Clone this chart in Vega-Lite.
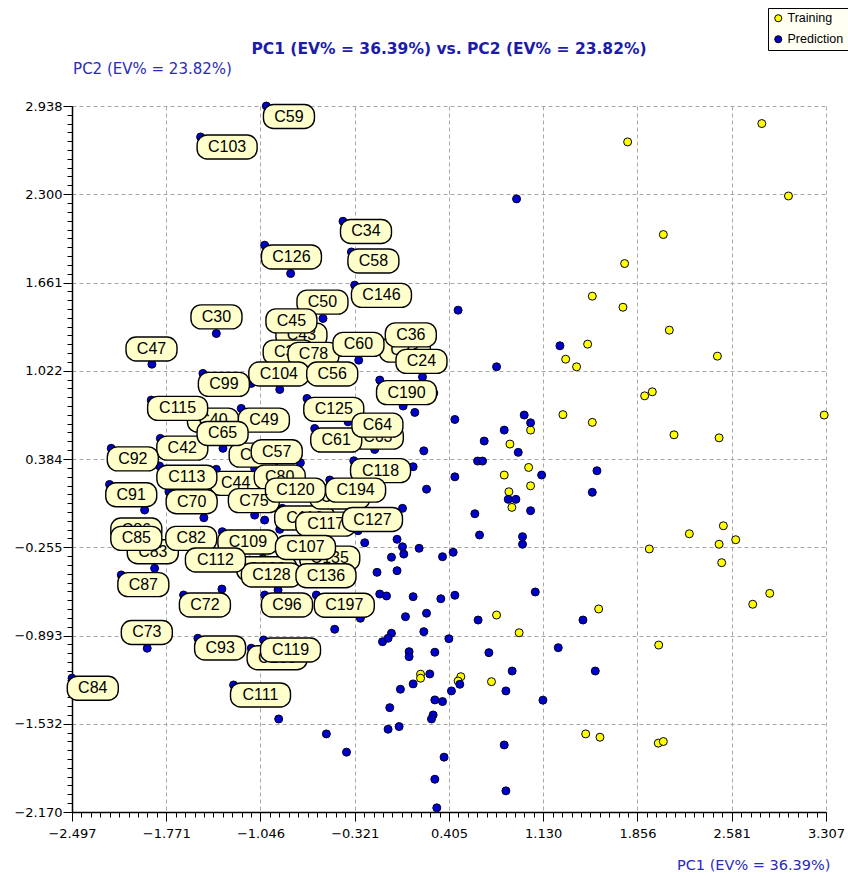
{
"$schema": "https://vega.github.io/schema/vega-lite/v6.json",
"width": 754, "height": 706,
"autosize": {"type": "none"},
"padding": {"left": 72, "top": 106, "right": 22, "bottom": 64},
"background": "white",
"config": {"view": {"stroke": null}},
"title": {"text": "PC1 (EV% = 36.39%) vs. PC2 (EV% = 23.82%)", "font": "DejaVu Sans", "fontSize": 15.5, "fontWeight": "bold", "color": "#1C1CA8", "anchor": "middle", "frame": "group", "offset": 4, "dy": 54},
"datasets": {
"points": [
{"x":2.813,"y":2.811,"set":"Training"},{"x":1.780,"y":2.678,"set":"Training"},{"x":3.018,"y":2.287,"set":"Training"},{"x":2.055,"y":2.008,"set":"Training"},{"x":1.757,"y":1.798,"set":"Training"},{"x":1.508,"y":1.562,"set":"Training"},{"x":1.744,"y":1.482,"set":"Training"},{"x":2.101,"y":1.316,"set":"Training"},{"x":1.472,"y":1.215,"set":"Training"},{"x":1.303,"y":1.106,"set":"Training"},{"x":1.387,"y":1.051,"set":"Training"},{"x":2.471,"y":1.128,"set":"Training"},{"x":1.911,"y":0.841,"set":"Training"},{"x":1.970,"y":0.870,"set":"Training"},{"x":1.282,"y":0.705,"set":"Training"},{"x":3.293,"y":0.702,"set":"Training"},{"x":1.508,"y":0.649,"set":"Training"},{"x":2.137,"y":0.559,"set":"Training"},{"x":2.484,"y":0.537,"set":"Training"},{"x":1.033,"y":0.593,"set":"Training"},{"x":0.874,"y":0.492,"set":"Training"},{"x":1.018,"y":0.323,"set":"Training"},{"x":0.830,"y":0.268,"set":"Training"},{"x":1.033,"y":0.190,"set":"Training"},{"x":0.866,"y":0.147,"set":"Training"},{"x":0.889,"y":0.034,"set":"Training"},{"x":2.517,"y":-0.099,"set":"Training"},{"x":2.255,"y":-0.157,"set":"Training"},{"x":2.612,"y":-0.200,"set":"Training"},{"x":2.484,"y":-0.233,"set":"Training"},{"x":1.947,"y":-0.267,"set":"Training"},{"x":2.504,"y":-0.366,"set":"Training"},{"x":2.874,"y":-0.588,"set":"Training"},{"x":2.743,"y":-0.667,"set":"Training"},{"x":1.557,"y":-0.701,"set":"Training"},{"x":0.771,"y":-0.745,"set":"Training"},{"x":0.945,"y":-0.873,"set":"Training"},{"x":2.019,"y":-0.962,"set":"Training"},{"x":0.496,"y":-1.191,"set":"Training"},{"x":0.475,"y":-1.222,"set":"Training"},{"x":0.732,"y":-1.227,"set":"Training"},{"x":1.457,"y":-1.605,"set":"Training"},{"x":1.567,"y":-1.629,"set":"Training"},{"x":2.016,"y":-1.672,"set":"Training"},{"x":2.055,"y":-1.660,"set":"Training"},{"x":0.186,"y":-1.173,"set":"Training"},{"x":0.186,"y":-1.202,"set":"Training"},
{"x":0.925,"y":2.266,"set":"Prediction"},{"x":0.475,"y":1.461,"set":"Prediction"},{"x":1.259,"y":1.203,"set":"Prediction"},{"x":0.771,"y":1.051,"set":"Prediction"},{"x":0.450,"y":0.670,"set":"Prediction"},{"x":0.984,"y":0.702,"set":"Prediction"},{"x":1.033,"y":0.646,"set":"Prediction"},{"x":0.830,"y":0.593,"set":"Prediction"},{"x":0.676,"y":0.514,"set":"Prediction"},{"x":0.938,"y":0.432,"set":"Prediction"},{"x":0.625,"y":0.369,"set":"Prediction"},{"x":0.663,"y":0.369,"set":"Prediction"},{"x":0.450,"y":0.255,"set":"Prediction"},{"x":1.118,"y":0.268,"set":"Prediction"},{"x":1.544,"y":0.299,"set":"Prediction"},{"x":1.508,"y":0.143,"set":"Prediction"},{"x":0.861,"y":0.092,"set":"Prediction"},{"x":0.920,"y":0.092,"set":"Prediction"},{"x":1.033,"y":0.010,"set":"Prediction"},{"x":0.604,"y":-0.012,"set":"Prediction"},{"x":0.640,"y":-0.166,"set":"Prediction"},{"x":0.971,"y":-0.178,"set":"Prediction"},{"x":0.971,"y":-0.233,"set":"Prediction"},{"x":0.437,"y":-0.291,"set":"Prediction"},{"x":0.355,"y":-0.323,"set":"Prediction"},{"x":0.450,"y":-0.602,"set":"Prediction"},{"x":0.342,"y":-0.627,"set":"Prediction"},{"x":1.069,"y":-0.578,"set":"Prediction"},{"x":0.629,"y":-0.781,"set":"Prediction"},{"x":1.436,"y":-0.781,"set":"Prediction"},{"x":0.404,"y":-0.916,"set":"Prediction"},{"x":0.712,"y":-1.017,"set":"Prediction"},{"x":1.246,"y":-0.981,"set":"Prediction"},{"x":0.891,"y":-1.150,"set":"Prediction"},{"x":1.531,"y":-1.150,"set":"Prediction"},{"x":0.488,"y":-1.246,"set":"Prediction"},{"x":0.424,"y":-1.294,"set":"Prediction"},{"x":0.843,"y":-1.294,"set":"Prediction"},{"x":0.355,"y":-1.371,"set":"Prediction"},{"x":1.128,"y":-1.361,"set":"Prediction"},{"x":0.830,"y":-1.685,"set":"Prediction"},{"x":0.367,"y":-1.773,"set":"Prediction"},{"x":0.843,"y":-2.017,"set":"Prediction"},
{"x":0.201,"y":0.978,"set":"Prediction"},{"x":0.142,"y":0.721,"set":"Prediction"},{"x":0.052,"y":0.767,"set":"Prediction"},{"x":0.288,"y":0.861,"set":"Prediction"},{"x":0.211,"y":0.443,"set":"Prediction"},{"x":-0.167,"y":0.453,"set":"Prediction"},{"x":0.129,"y":0.328,"set":"Prediction"},{"x":0.232,"y":0.166,"set":"Prediction"},{"x":0.047,"y":0.027,"set":"Prediction"},{"x":-0.295,"y":-0.135,"set":"Prediction"},{"x":-0.244,"y":-0.222,"set":"Prediction"},{"x":-0.321,"y":-0.294,"set":"Prediction"},{"x":0.005,"y":-0.197,"set":"Prediction"},{"x":0.047,"y":-0.251,"set":"Prediction"},{"x":0.057,"y":-0.304,"set":"Prediction"},{"x":0.175,"y":-0.262,"set":"Prediction"},{"x":-0.038,"y":-0.327,"set":"Prediction"},{"x":0.005,"y":-0.424,"set":"Prediction"},{"x":-0.149,"y":-0.436,"set":"Prediction"},{"x":-0.128,"y":-0.593,"set":"Prediction"},{"x":-0.076,"y":-0.607,"set":"Prediction"},{"x":0.129,"y":-0.612,"set":"Prediction"},{"x":0.070,"y":-0.757,"set":"Prediction"},{"x":0.232,"y":-0.732,"set":"Prediction"},{"x":-0.475,"y":-0.848,"set":"Prediction"},{"x":-0.277,"y":-0.768,"set":"Prediction"},{"x":-0.107,"y":-0.938,"set":"Prediction"},{"x":-0.038,"y":-0.877,"set":"Prediction"},{"x":-0.064,"y":-0.913,"set":"Prediction"},{"x":0.211,"y":-0.865,"set":"Prediction"},{"x":0.098,"y":-1.010,"set":"Prediction"},{"x":0.098,"y":-1.046,"set":"Prediction"},{"x":0.296,"y":-1.014,"set":"Prediction"},{"x":0.257,"y":-1.171,"set":"Prediction"},{"x":0.129,"y":-1.243,"set":"Prediction"},{"x":0.031,"y":-1.282,"set":"Prediction"},{"x":0.296,"y":-1.359,"set":"Prediction"},{"x":-0.051,"y":-1.415,"set":"Prediction"},{"x":0.283,"y":-1.468,"set":"Prediction"},{"x":0.270,"y":-1.497,"set":"Prediction"},{"x":-0.064,"y":-1.571,"set":"Prediction"},{"x":0.021,"y":-1.552,"set":"Prediction"},{"x":-0.906,"y":-1.497,"set":"Prediction"},{"x":-0.539,"y":-1.605,"set":"Prediction"},{"x":-0.384,"y":-1.737,"set":"Prediction"},{"x":0.296,"y":-1.933,"set":"Prediction"},{"x":0.311,"y":-2.140,"set":"Prediction"},
{"x":-1.001,"y":2.938,"set":"Prediction"},{"x":-1.507,"y":2.714,"set":"Prediction"},{"x":-1.014,"y":1.931,"set":"Prediction"},{"x":-0.814,"y":1.726,"set":"Prediction"},{"x":-0.411,"y":2.104,"set":"Prediction"},{"x":-0.346,"y":1.882,"set":"Prediction"},{"x":-0.321,"y":1.642,"set":"Prediction"},{"x":-1.386,"y":1.292,"set":"Prediction"},{"x":-0.565,"y":1.401,"set":"Prediction"},{"x":-1.882,"y":1.070,"set":"Prediction"},{"x":-0.290,"y":1.099,"set":"Prediction"},{"x":-0.898,"y":0.887,"set":"Prediction"},{"x":-1.117,"y":0.931,"set":"Prediction"},{"x":-0.128,"y":0.955,"set":"Prediction"},{"x":-0.688,"y":0.822,"set":"Prediction"},{"x":-1.194,"y":0.750,"set":"Prediction"},{"x":-0.372,"y":0.653,"set":"Prediction"},{"x":-1.489,"y":1.003,"set":"Prediction"},{"x":-1.887,"y":0.810,"set":"Prediction"},{"x":-1.335,"y":0.461,"set":"Prediction"},{"x":-0.629,"y":0.605,"set":"Prediction"},{"x":-1.817,"y":0.533,"set":"Prediction"},{"x":-2.195,"y":0.461,"set":"Prediction"},{"x":-0.739,"y":0.357,"set":"Prediction"},{"x":-1.823,"y":0.333,"set":"Prediction"},{"x":-1.386,"y":0.309,"set":"Prediction"},{"x":-2.208,"y":0.200,"set":"Prediction"},{"x":-1.938,"y":0.015,"set":"Prediction"},{"x":-1.751,"y":0.147,"set":"Prediction"},{"x":-1.482,"y":-0.041,"set":"Prediction"},{"x":-1.091,"y":-0.022,"set":"Prediction"},{"x":-1.014,"y":-0.058,"set":"Prediction"},{"x":-1.091,"y":0.316,"set":"Prediction"},{"x":-0.513,"y":0.232,"set":"Prediction"},{"x":-0.878,"y":0.027,"set":"Prediction"},{"x":-0.898,"y":-0.125,"set":"Prediction"},{"x":-1.340,"y":-0.142,"set":"Prediction"},{"x":-1.129,"y":-0.347,"set":"Prediction"},{"x":-1.861,"y":-0.407,"set":"Prediction"},{"x":-1.027,"y":-0.335,"set":"Prediction"},{"x":-0.989,"y":-0.347,"set":"Prediction"},{"x":-2.118,"y":-0.455,"set":"Prediction"},{"x":-1.638,"y":-0.600,"set":"Prediction"},{"x":-1.343,"y":-0.557,"set":"Prediction"},{"x":-1.014,"y":-0.600,"set":"Prediction"},{"x":-0.911,"y":-0.564,"set":"Prediction"},{"x":-0.616,"y":-0.600,"set":"Prediction"},{"x":-1.918,"y":-0.985,"set":"Prediction"},{"x":-1.528,"y":-0.913,"set":"Prediction"},{"x":-1.117,"y":-0.985,"set":"Prediction"},{"x":-1.022,"y":-0.925,"set":"Prediction"},{"x":-2.497,"y":-1.202,"set":"Prediction"},{"x":-1.253,"y":-1.251,"set":"Prediction"},{"x":-0.328,"y":0.371,"set":"Prediction"}
],
"L0": [
{"label":"C43","x":-0.731,"y":1.280},{"label":"C40","x":-1.412,"y":0.665},{"label":"C55","x":-1.091,"y":0.412},{"label":"C23","x":0.065,"y":1.172},{"label":"C37","x":-0.829,"y":1.157},{"label":"C63","x":-0.143,"y":0.542},{"label":"C116","x":-0.706,"y":-0.043},{"label":"C195","x":-0.436,"y":0.109},{"label":"C86","x":-2.002,"y":-0.130},{"label":"C129","x":-0.998,"y":-0.410},{"label":"C135","x":-0.513,"y":-0.333},{"label":"C188","x":-0.918,"y":-1.054},{"label":"C44","x":-1.237,"y":0.208}
],
"L1": [
{"label":"C42","x":-1.648,"y":0.463},{"label":"C49","x":-1.020,"y":0.665},{"label":"C78","x":-0.638,"y":1.141},{"label":"C80","x":-0.898,"y":0.253},{"label":"C83","x":-1.875,"y":-0.287},{"label":"C109","x":-1.143,"y":-0.217},{"label":"C117","x":-0.544,"y":-0.087},{"label":"C118","x":-0.122,"y":0.300},{"label":"C125","x":-0.482,"y":0.743},{"label":"C128","x":-0.962,"y":-0.455},{"label":"C50","x":-0.569,"y":1.519},{"label":"C99","x":-1.328,"y":0.924},{"label":"C115","x":-1.684,"y":0.750},{"label":"C61","x":-0.463,"y":0.521}
],
"L2": [
{"label":"C59","x":-0.827,"y":2.862},{"label":"C103","x":-1.303,"y":2.641},{"label":"C126","x":-0.808,"y":1.846},{"label":"C30","x":-1.385,"y":1.412},{"label":"C45","x":-0.808,"y":1.383},{"label":"C34","x":-0.234,"y":2.030},{"label":"C58","x":-0.177,"y":1.817},{"label":"C146","x":-0.115,"y":1.568},{"label":"C36","x":0.111,"y":1.282},{"label":"C24","x":0.193,"y":1.090},{"label":"C60","x":-0.292,"y":1.213},{"label":"C190","x":0.078,"y":0.864},{"label":"C64","x":-0.146,"y":0.629},{"label":"C104","x":-0.905,"y":0.999},{"label":"C56","x":-0.494,"y":0.999},{"label":"C47","x":-1.885,"y":1.180},{"label":"C65","x":-1.338,"y":0.569},{"label":"C92","x":-2.029,"y":0.385},{"label":"C57","x":-0.921,"y":0.436},{"label":"C113","x":-1.613,"y":0.252},{"label":"C75","x":-1.097,"y":0.083},{"label":"C120","x":-0.777,"y":0.159},{"label":"C91","x":-2.041,"y":0.125},{"label":"C194","x":-0.314,"y":0.159},{"label":"C127","x":-0.184,"y":-0.054},{"label":"C85","x":-2.002,"y":-0.190},{"label":"C82","x":-1.579,"y":-0.190},{"label":"C107","x":-0.700,"y":-0.256},{"label":"C112","x":-1.393,"y":-0.347},{"label":"C136","x":-0.542,"y":-0.461},{"label":"C87","x":-1.948,"y":-0.525},{"label":"C72","x":-1.474,"y":-0.672},{"label":"C96","x":-0.842,"y":-0.672},{"label":"C197","x":-0.401,"y":-0.674},{"label":"C73","x":-1.921,"y":-0.871},{"label":"C93","x":-1.357,"y":-0.983},{"label":"C119","x":-0.815,"y":-0.998},{"label":"C84","x":-2.337,"y":-1.275},{"label":"C111","x":-1.046,"y":-1.323}
],
"L3": [
{"label":"C70","x":-1.576,"y":0.075}
]
},
"resolve": {"axis": {"x": "independent", "y": "independent"}},
"layer": [
{"data": {"name": "points"}, "mark": {"type": "circle", "opacity": 0},
 "encoding": {
  "x": {"field": "x", "type": "quantitative", "scale": {"domain": [-2.497, 3.307], "nice": false, "zero": false},
   "axis": {"orient": "bottom", "values": [-2.497,-2.424,-2.352,-2.279,-2.207,-2.134,-2.062,-1.989,-1.917,-1.844,-1.771,-1.699,-1.626,-1.554,-1.481,-1.409,-1.336,-1.264,-1.191,-1.119,-1.046,-0.973,-0.901,-0.828,-0.756,-0.683,-0.611,-0.538,-0.466,-0.393,-0.321,-0.248,-0.175,-0.103,-0.030,0.042,0.115,0.187,0.260,0.332,0.405,0.478,0.550,0.623,0.695,0.768,0.840,0.913,0.985,1.058,1.130,1.203,1.276,1.348,1.421,1.493,1.566,1.638,1.711,1.783,1.856,1.929,2.001,2.074,2.146,2.219,2.291,2.364,2.436,2.509,2.581,2.654,2.727,2.799,2.872,2.944,3.017,3.089,3.162,3.234,3.307], "labels": false, "grid": false, "domain": false, "ticks": true, "tickSize": 5, "tickColor": "#000000", "tickWidth": 1, "title": null}},
  "y": {"field": "y", "type": "quantitative", "scale": {"domain": [-2.170, 2.938], "nice": false, "zero": false},
   "axis": {"orient": "left", "values": [-2.170,-2.106,-2.042,-1.978,-1.915,-1.851,-1.787,-1.723,-1.659,-1.595,-1.532,-1.468,-1.404,-1.340,-1.276,-1.212,-1.148,-1.085,-1.021,-0.957,-0.893,-0.829,-0.765,-0.701,-0.638,-0.574,-0.510,-0.446,-0.382,-0.318,-0.255,-0.191,-0.127,-0.063,0.001,0.065,0.129,0.192,0.256,0.320,0.384,0.448,0.512,0.576,0.639,0.703,0.767,0.831,0.895,0.959,1.022,1.086,1.150,1.214,1.278,1.342,1.406,1.469,1.533,1.597,1.661,1.725,1.789,1.853,1.916,1.980,2.044,2.108,2.172,2.236,2.300,2.364,2.428,2.492,2.555,2.619,2.683,2.747,2.811,2.875,2.938], "labels": false, "grid": false, "domain": false, "ticks": true, "tickSize": 5, "tickColor": "#000000", "tickWidth": 1, "title": null}}
 }},
{"data": {"name": "points"}, "mark": {"type": "circle", "size": 64, "stroke": "#000022", "strokeWidth": 1, "opacity": 1},
 "encoding": {
  "x": {"field": "x", "type": "quantitative", "scale": {"domain": [-2.497, 3.307], "nice": false, "zero": false},
   "axis": {"orient": "bottom", "values": [-2.497,-1.771,-1.046,-0.321,0.405,1.130,1.856,2.581,3.307], "format": ".3f", "labelFlush": false, "labelOverlap": false, "labelBound": false, "grid": true, "gridDash": [4,3], "gridColor": "#A8A8A8", "gridWidth": 1, "domainColor": "#000000", "domainWidth": 1.5, "tickColor": "#000000", "tickSize": 9, "tickWidth": 1, "labelFont": "DejaVu Sans", "labelFontSize": 13, "labelColor": "#000000", "labelPadding": 6,
    "title": "PC1 (EV% = 36.39%)", "titleFont": "DejaVu Sans", "titleFontSize": 14.5, "titleFontWeight": "normal", "titleColor": "#2B2BB8", "titleX": 758, "titleY": 53, "titleAlign": "right", "titleBaseline": "middle", "titleAnchor": "end"}},
  "y": {"field": "y", "type": "quantitative", "scale": {"domain": [-2.170, 2.938], "nice": false, "zero": false},
   "axis": {"orient": "left", "values": [-2.170,-1.532,-0.893,-0.255,0.384,1.022,1.661,2.300,2.938], "format": ".3f", "labelFlush": false, "labelOverlap": false, "labelBound": false, "grid": true, "gridDash": [4,3], "gridColor": "#A8A8A8", "gridWidth": 1, "domainColor": "#000000", "domainWidth": 1.5, "tickColor": "#000000", "tickSize": 9, "tickWidth": 1, "labelFont": "DejaVu Sans", "labelFontSize": 13, "labelColor": "#000000", "labelPadding": 1,
    "title": "PC2 (EV% = 23.82%)", "titleFont": "DejaVu Sans", "titleFontSize": 15, "titleFontWeight": "normal", "titleColor": "#2B2BB8", "titleAngle": 0, "titleX": 80, "titleY": -38, "titleAlign": "center", "titleBaseline": "middle"}},
  "fill": {"field": "set", "type": "nominal", "scale": {"domain": ["Training", "Prediction"], "range": ["#FFFF00", "#0000CD"]},
   "legend": {"orient": "none", "legendX": 696, "legendY": -98, "title": null, "direction": "vertical", "fillColor": "#FFFFF4", "strokeColor": "#000000", "padding": 4, "rowPadding": 8, "labelFont": "Liberation Sans", "labelFontSize": 12.5, "labelColor": "#000000", "symbolType": "circle", "symbolSize": 50, "symbolStrokeColor": "#000000", "symbolStrokeWidth": 1, "labelOffset": 3}}
 }},
{"data": {"name": "L0"}, "mark": {"type": "point", "filled": true, "fill": "#FFFFCC", "stroke": "#000000", "strokeWidth": 1.4, "size": 400, "opacity": 1},
 "encoding": {"x": {"field": "x", "type": "quantitative", "scale": {"domain": [-2.497, 3.307], "nice": false, "zero": false}, "axis": null}, "y": {"field": "y", "type": "quantitative", "scale": {"domain": [-2.170, 2.938], "nice": false, "zero": false}, "axis": null},
  "shape": {"condition": {"test": "length(datum.label) > 3", "value": "M -2 -1.2 L 2 -1.2 C 2.552 -1.2 3 -0.752 3 -0.2 L 3 0.2 C 3 0.752 2.552 1.2 2 1.2 L -2 1.2 C -2.552 1.2 -3 0.752 -3 0.2 L -3 -0.2 C -3 -0.752 -2.552 -1.2 -2 -1.2 Z"}, "value": "M -1.55 -1.2 L 1.55 -1.2 C 2.102 -1.2 2.55 -0.752 2.55 -0.2 L 2.55 0.2 C 2.55 0.752 2.102 1.2 1.55 1.2 L -1.55 1.2 C -2.102 1.2 -2.55 0.752 -2.55 0.2 L -2.55 -0.2 C -2.55 -0.752 -2.102 -1.2 -1.55 -1.2 Z"}}},
{"data": {"name": "L0"}, "mark": {"type": "text", "font": "Liberation Sans", "fontSize": 16, "fill": "#000000", "align": "center", "baseline": "middle"},
 "encoding": {"x": {"field": "x", "type": "quantitative", "scale": {"domain": [-2.497, 3.307], "nice": false, "zero": false}, "axis": null}, "y": {"field": "y", "type": "quantitative", "scale": {"domain": [-2.170, 2.938], "nice": false, "zero": false}, "axis": null}, "text": {"field": "label"}}},
{"data": {"name": "L1"}, "mark": {"type": "point", "filled": true, "fill": "#FFFFCC", "stroke": "#000000", "strokeWidth": 1.4, "size": 400, "opacity": 1},
 "encoding": {"x": {"field": "x", "type": "quantitative", "scale": {"domain": [-2.497, 3.307], "nice": false, "zero": false}, "axis": null}, "y": {"field": "y", "type": "quantitative", "scale": {"domain": [-2.170, 2.938], "nice": false, "zero": false}, "axis": null},
  "shape": {"condition": {"test": "length(datum.label) > 3", "value": "M -2 -1.2 L 2 -1.2 C 2.552 -1.2 3 -0.752 3 -0.2 L 3 0.2 C 3 0.752 2.552 1.2 2 1.2 L -2 1.2 C -2.552 1.2 -3 0.752 -3 0.2 L -3 -0.2 C -3 -0.752 -2.552 -1.2 -2 -1.2 Z"}, "value": "M -1.55 -1.2 L 1.55 -1.2 C 2.102 -1.2 2.55 -0.752 2.55 -0.2 L 2.55 0.2 C 2.55 0.752 2.102 1.2 1.55 1.2 L -1.55 1.2 C -2.102 1.2 -2.55 0.752 -2.55 0.2 L -2.55 -0.2 C -2.55 -0.752 -2.102 -1.2 -1.55 -1.2 Z"}}},
{"data": {"name": "L1"}, "mark": {"type": "text", "font": "Liberation Sans", "fontSize": 16, "fill": "#000000", "align": "center", "baseline": "middle"},
 "encoding": {"x": {"field": "x", "type": "quantitative", "scale": {"domain": [-2.497, 3.307], "nice": false, "zero": false}, "axis": null}, "y": {"field": "y", "type": "quantitative", "scale": {"domain": [-2.170, 2.938], "nice": false, "zero": false}, "axis": null}, "text": {"field": "label"}}},
{"data": {"name": "L2"}, "mark": {"type": "point", "filled": true, "fill": "#FFFFCC", "stroke": "#000000", "strokeWidth": 1.4, "size": 400, "opacity": 1},
 "encoding": {"x": {"field": "x", "type": "quantitative", "scale": {"domain": [-2.497, 3.307], "nice": false, "zero": false}, "axis": null}, "y": {"field": "y", "type": "quantitative", "scale": {"domain": [-2.170, 2.938], "nice": false, "zero": false}, "axis": null},
  "shape": {"condition": {"test": "length(datum.label) > 3", "value": "M -2 -1.2 L 2 -1.2 C 2.552 -1.2 3 -0.752 3 -0.2 L 3 0.2 C 3 0.752 2.552 1.2 2 1.2 L -2 1.2 C -2.552 1.2 -3 0.752 -3 0.2 L -3 -0.2 C -3 -0.752 -2.552 -1.2 -2 -1.2 Z"}, "value": "M -1.55 -1.2 L 1.55 -1.2 C 2.102 -1.2 2.55 -0.752 2.55 -0.2 L 2.55 0.2 C 2.55 0.752 2.102 1.2 1.55 1.2 L -1.55 1.2 C -2.102 1.2 -2.55 0.752 -2.55 0.2 L -2.55 -0.2 C -2.55 -0.752 -2.102 -1.2 -1.55 -1.2 Z"}}},
{"data": {"name": "L2"}, "mark": {"type": "text", "font": "Liberation Sans", "fontSize": 16, "fill": "#000000", "align": "center", "baseline": "middle"},
 "encoding": {"x": {"field": "x", "type": "quantitative", "scale": {"domain": [-2.497, 3.307], "nice": false, "zero": false}, "axis": null}, "y": {"field": "y", "type": "quantitative", "scale": {"domain": [-2.170, 2.938], "nice": false, "zero": false}, "axis": null}, "text": {"field": "label"}}},
{"data": {"name": "L3"}, "mark": {"type": "point", "filled": true, "fill": "#FFFFCC", "stroke": "#000000", "strokeWidth": 1.4, "size": 400, "opacity": 1},
 "encoding": {"x": {"field": "x", "type": "quantitative", "scale": {"domain": [-2.497, 3.307], "nice": false, "zero": false}, "axis": null}, "y": {"field": "y", "type": "quantitative", "scale": {"domain": [-2.170, 2.938], "nice": false, "zero": false}, "axis": null},
  "shape": {"condition": {"test": "length(datum.label) > 3", "value": "M -2 -1.2 L 2 -1.2 C 2.552 -1.2 3 -0.752 3 -0.2 L 3 0.2 C 3 0.752 2.552 1.2 2 1.2 L -2 1.2 C -2.552 1.2 -3 0.752 -3 0.2 L -3 -0.2 C -3 -0.752 -2.552 -1.2 -2 -1.2 Z"}, "value": "M -1.55 -1.2 L 1.55 -1.2 C 2.102 -1.2 2.55 -0.752 2.55 -0.2 L 2.55 0.2 C 2.55 0.752 2.102 1.2 1.55 1.2 L -1.55 1.2 C -2.102 1.2 -2.55 0.752 -2.55 0.2 L -2.55 -0.2 C -2.55 -0.752 -2.102 -1.2 -1.55 -1.2 Z"}}},
{"data": {"name": "L3"}, "mark": {"type": "text", "font": "Liberation Sans", "fontSize": 16, "fill": "#000000", "align": "center", "baseline": "middle"},
 "encoding": {"x": {"field": "x", "type": "quantitative", "scale": {"domain": [-2.497, 3.307], "nice": false, "zero": false}, "axis": null}, "y": {"field": "y", "type": "quantitative", "scale": {"domain": [-2.170, 2.938], "nice": false, "zero": false}, "axis": null}, "text": {"field": "label"}}}
]
}
